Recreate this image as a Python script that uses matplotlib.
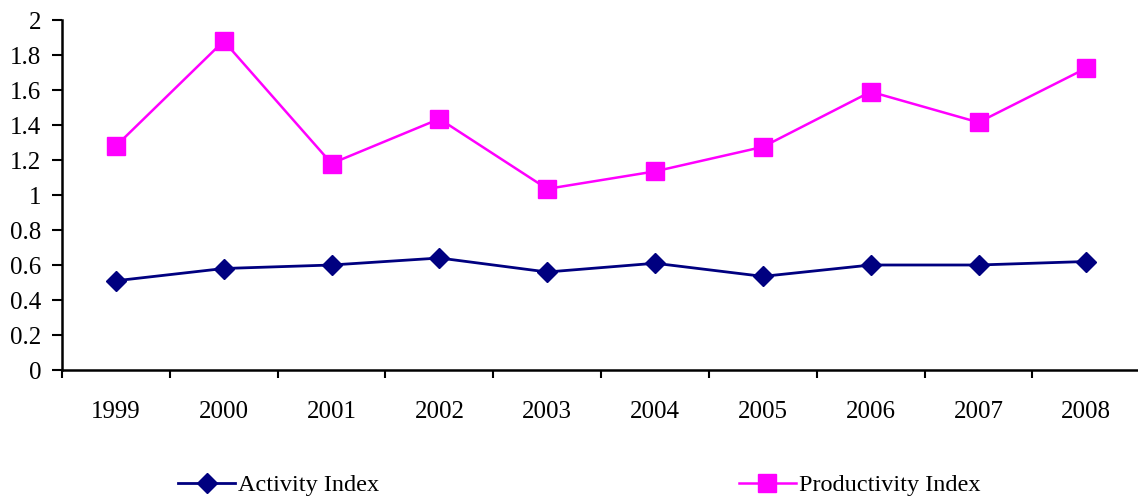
import matplotlib
matplotlib.use("Agg")
import matplotlib.pyplot as plt
import numpy as np

years = ["1999", "2000", "2001", "2002", "2003", "2004", "2005", "2006", "2007", "2008"]
activity = [0.51, 0.58, 0.60, 0.64, 0.56, 0.61, 0.535, 0.60, 0.60, 0.62]
productivity = [1.28, 1.88, 1.18, 1.435, 1.035, 1.135, 1.275, 1.59, 1.415, 1.725]
yticks = [0, 0.2, 0.4, 0.6, 0.8, 1, 1.2, 1.4, 1.6, 1.8, 2]
ytick_labels = ["0", "0.2", "0.4", "0.6", "0.8", "1", "1.2", "1.4", "1.6", "1.8", "2"]

plt.rcParams['font.family'] = ['Liberation Serif', 'DejaVu Serif']

fig = plt.figure(figsize=(11.38, 4.98), dpi=100)
ax = fig.add_axes([62/1138, 1 - 370/498, 1 - 62/1138 + 0.002, 350/498])

x = np.arange(len(years))
ax.plot(x, activity, color="#000080", lw=2.0, marker="D", markersize=10,
        label="Activity Index", clip_on=False)
ax.plot(x, productivity, color="#FF00FF", lw=1.8, marker="s", markersize=12.5,
        label="Productivity Index", clip_on=False)

ax.set_xlim(-0.5, len(years) - 0.5)
ax.set_ylim(0, 2)
ax.set_yticks(yticks)
ax.set_yticklabels(ytick_labels, fontsize=18)
ax.set_xticks(x)
ax.set_xticklabels(years, fontsize=18)
ax.set_xticks(np.arange(-0.5, len(years), 1), minor=True)
ax.tick_params(axis="x", which="major", length=0, pad=22)
ax.tick_params(axis="x", which="minor", length=6, width=1.5, direction="out")
ax.tick_params(axis="y", length=7, width=1.5, direction="out", pad=8)

for s in ["top", "right"]:
    ax.spines[s].set_visible(False)
for s in ["left", "bottom"]:
    ax.spines[s].set_linewidth(1.8)

fig.legend(loc="center left", bbox_to_anchor=(178/1138, 1 - 485/498), ncol=2,
           frameon=False, fontsize=17.5, handlelength=2.35, handletextpad=0.12,
           columnspacing=14.8, borderaxespad=0, borderpad=0)

fig.savefig("out.png", dpi=100)
